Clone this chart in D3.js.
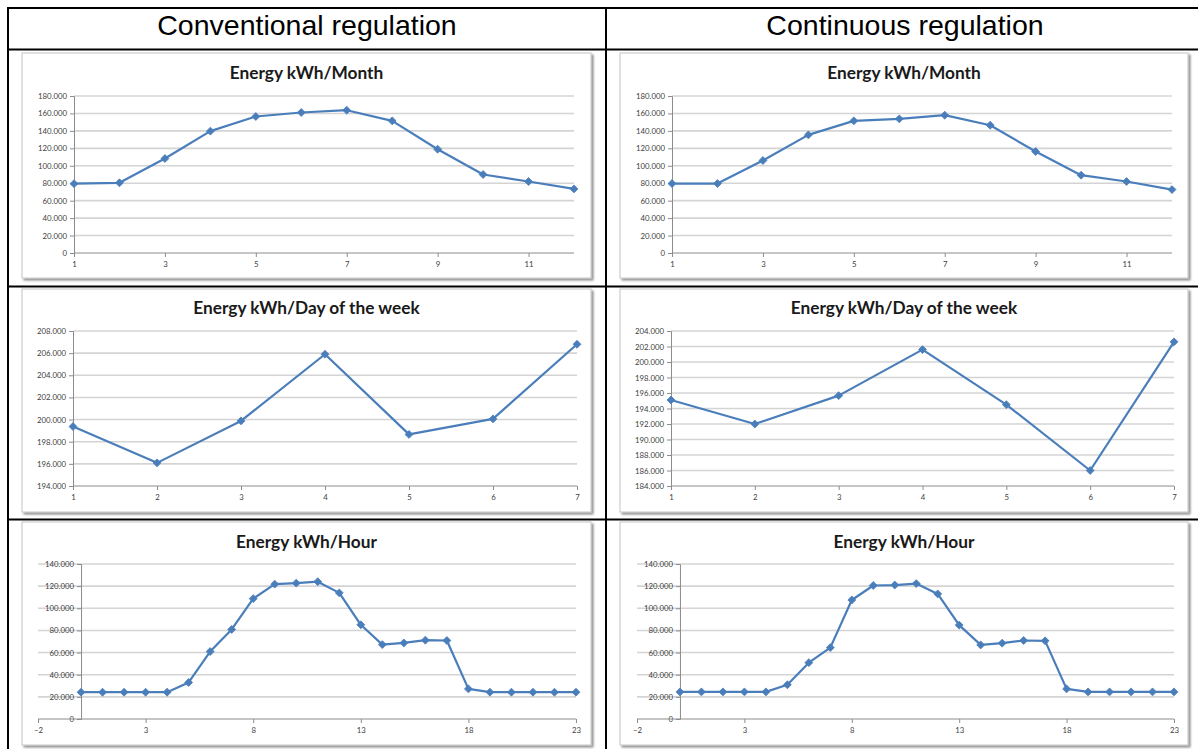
<!DOCTYPE html>
<html>
<head>
<meta charset="utf-8">
<script src="https://cdn.jsdelivr.net/npm/d3@7"></script>
<style>
  html, body { margin: 0; padding: 0; background: #fff; }
  svg { display: block; }
</style>
</head>
<body>
<svg id="chart" width="1198" height="749"></svg>
<script>
// Energy produced, kWh — two regulation strategies side by side
const columnTitles = ["Conventional regulation", "Continuous regulation"];
const chartTitles = ["Energy kWh/Month", "Energy kWh/Day of the week", "Energy kWh/Hour"];

const months = [1, 2, 3, 4, 5, 6, 7, 8, 9, 10, 11, 12];
const conventionalMonth = [79500, 80500, 108300, 139700, 156500, 161100, 163700, 151500, 119000, 90000, 82000, 73500];
const continuousMonth   = [79600, 79600, 106000, 135400, 151500, 153800, 158000, 146500, 116300, 89200, 82000, 72700];

const days = [1, 2, 3, 4, 5, 6, 7];
const conventionalDay = [199370, 196090, 199880, 205900, 198660, 200060, 206800];
const continuousDay   = [195100, 192000, 195660, 201600, 194500, 186000, 202600];

const hours = [0, 1, 2, 3, 4, 5, 6, 7, 8, 9, 10, 11, 12, 13, 14, 15, 16, 17, 18, 19, 20, 21, 22, 23];
const conventionalHour = [24200, 24200, 24200, 24200, 24200, 33000, 60900, 80900, 108700, 121800, 122700, 124000,
                          113900, 85100, 67200, 68700, 71200, 70900, 27200, 24200, 24200, 24200, 24200, 24200];
const continuousHour   = [24500, 24500, 24500, 24500, 24500, 30900, 50900, 64500, 107500, 120600, 121000, 122300,
                          113000, 84800, 66900, 68500, 70900, 70600, 27200, 24500, 24500, 24500, 24500, 24500];

// Axis tick values
const monthTicks = [1, 3, 5, 7, 9, 11];
const dayTicks = [1, 2, 3, 4, 5, 6, 7];
const hourTicks = [-2, 3, 8, 13, 18, 23];
const monthValueTicks = [0, 20000, 40000, 60000, 80000, 100000, 120000, 140000, 160000, 180000];
const conventionalDayTicks = [194000, 196000, 198000, 200000, 202000, 204000, 206000, 208000];
const continuousDayTicks = [184000, 186000, 188000, 190000, 192000, 194000, 196000, 198000, 200000, 202000, 204000];
const hourValueTicks = [0, 20000, 40000, 60000, 80000, 100000, 120000, 140000];

const fmt = d3.formatLocale({ decimal: ",", thousands: ".", grouping: [3], currency: ["", ""] }).format(",");

const svg = d3.select("#chart");
const LINE = "#4a7ebb";
const AXIS = "#8c8c8c";
const GRID = "#d4d4d4";
const TICK_FONT = "Lato, 'Open Sans', sans-serif";

// Table cells
const cols = [
  { box: [22, 591], headX: 307 },
  { box: [620, 1188], headX: 905 }
];
const rows = [
  { box: [53, 278], plot: [96, 253], titleY: 72 },
  { box: [289, 512], plot: [331, 486], titleY: 307 },
  { box: [522, 745], plot: [564, 719], titleY: 541 }
];

const panels = [
  { col: 0, row: 0, xs: months, ys: conventionalMonth, xDomain: [1, 12], yDomain: [0, 180000], xTicks: monthTicks, yTicks: monthValueTicks, xRange: [74, 574], yAxisAt: 1 },
  { col: 1, row: 0, xs: months, ys: continuousMonth, xDomain: [1, 12], yDomain: [0, 180000], xTicks: monthTicks, yTicks: monthValueTicks, xRange: [672, 1172], yAxisAt: 1 },
  { col: 0, row: 1, xs: days, ys: conventionalDay, xDomain: [1, 7], yDomain: [194000, 208000], xTicks: dayTicks, yTicks: conventionalDayTicks, xRange: [73, 577], yAxisAt: 1 },
  { col: 1, row: 1, xs: days, ys: continuousDay, xDomain: [1, 7], yDomain: [184000, 204000], xTicks: dayTicks, yTicks: continuousDayTicks, xRange: [671, 1174], yAxisAt: 1 },
  { col: 0, row: 2, xs: hours, ys: conventionalHour, xDomain: [-2, 23], yDomain: [0, 140000], xTicks: hourTicks, yTicks: hourValueTicks, xRange: [38, 576], yAxisAt: 0 },
  { col: 1, row: 2, xs: hours, ys: continuousHour, xDomain: [-2, 23], yDomain: [0, 140000], xTicks: hourTicks, yTicks: hourValueTicks, xRange: [637, 1174], yAxisAt: 0 }
];

// Soft shadow for the chart frames
const defs = svg.append("defs");
const sh = defs.append("filter").attr("id", "frameShadow").attr("x", "-5%").attr("y", "-5%").attr("width", "110%").attr("height", "110%");
sh.append("feGaussianBlur").attr("in", "SourceAlpha").attr("stdDeviation", 1.2);
sh.append("feOffset").attr("dx", 1.5).attr("dy", 1.5).attr("result", "off");
sh.append("feComponentTransfer").append("feFuncA").attr("type", "linear").attr("slope", 0.45);
const mg = sh.append("feMerge");
mg.append("feMergeNode");
mg.append("feMergeNode").attr("in", "SourceGraphic");

// Column headers
svg.selectAll("text.head").data(columnTitles).join("text")
  .attr("class", "head")
  .attr("x", (d, i) => cols[i].headX)
  .attr("y", 35)
  .attr("text-anchor", "middle")
  .attr("font-family", "Liberation Sans, Arial, sans-serif")
  .attr("font-size", 28.5)
  .attr("fill", "#000")
  .text(d => d);

panels.forEach(p => {
  const c = cols[p.col], r = rows[p.row];
  const g = svg.append("g");

  // chart frame
  g.append("rect")
    .attr("x", c.box[0]).attr("y", r.box[0])
    .attr("width", c.box[1] - c.box[0]).attr("height", r.box[1] - r.box[0])
    .attr("fill", "#fff").attr("stroke", "#c4c4c4").attr("stroke-width", 1)
    .attr("filter", "url(#frameShadow)");

  // title
  g.append("text")
    .attr("x", (c.box[0] + c.box[1]) / 2).attr("y", r.titleY)
    .attr("text-anchor", "middle").attr("dominant-baseline", "central")
    .attr("font-family", TICK_FONT)
    .attr("font-weight", 700).attr("font-size", 17.3).attr("fill", "#1a1a1a")
    .text(chartTitles[p.row]);

  const x = d3.scaleLinear().domain(p.xDomain).range(p.xRange);
  const y = d3.scaleLinear().domain(p.yDomain).range([r.plot[1], r.plot[0]]);
  const axisX = x(p.yAxisAt);

  // horizontal gridlines
  g.append("g").selectAll("line").data(p.yTicks.slice(1)).join("line")
    .attr("x1", p.xRange[0]).attr("x2", p.xRange[1])
    .attr("y1", d => y(d)).attr("y2", d => y(d))
    .attr("stroke", GRID).attr("stroke-width", 1.6);

  // value axis
  const yAxis = d3.axisLeft(y).tickValues(p.yTicks).tickFormat(fmt).tickSize(4).tickPadding(3);
  const ya = g.append("g").attr("transform", `translate(${axisX},0)`).call(yAxis);
  ya.select(".domain").attr("stroke", AXIS);
  ya.selectAll(".tick line").attr("stroke", AXIS);
  ya.selectAll(".tick text")
    .attr("font-family", TICK_FONT).attr("font-size", 7.8).attr("fill", "#404040");

  // category axis
  const xAxis = d3.axisBottom(x).tickValues(p.xTicks).tickFormat(d3.format("d")).tickSize(4).tickPadding(4).tickSizeOuter(0);
  const xa = g.append("g").attr("transform", `translate(0,${y(p.yDomain[0])})`).call(xAxis);
  xa.select(".domain").attr("stroke", AXIS).attr("d", `M${p.xRange[0]},0H${p.xRange[1]}`);
  xa.selectAll(".tick line").attr("stroke", AXIS);
  xa.selectAll(".tick text")
    .attr("font-family", TICK_FONT).attr("font-size", 7.8).attr("fill", "#404040");

  // series line
  const pts = p.xs.map((v, i) => [v, p.ys[i]]);
  g.append("path").datum(pts)
    .attr("fill", "none").attr("stroke", LINE).attr("stroke-width", 2.2).attr("stroke-linejoin", "round")
    .attr("d", d3.line().x(d => x(d[0])).y(d => y(d[1])));

  // diamond markers
  g.append("g").selectAll("path").data(pts).join("path")
    .attr("transform", d => `translate(${x(d[0])},${y(d[1])})`)
    .attr("d", d3.symbol(d3.symbolDiamond2, 40))
    .attr("fill", LINE).attr("stroke", LINE).attr("stroke-width", 0.8);
});

// Table rules
const rules = [
  [7, 8, 1198, 8], [7, 49.5, 1198, 49.5],
  [7, 286.5, 1198, 286.5], [7, 519.5, 1198, 519.5],
  [8, 7, 8, 749], [606, 7, 606, 749]
];
svg.append("g").selectAll("line").data(rules).join("line")
  .attr("x1", d => d[0]).attr("y1", d => d[1]).attr("x2", d => d[2]).attr("y2", d => d[3])
  .attr("stroke", "#000").attr("stroke-width", 2);
</script>
</body>
</html>
